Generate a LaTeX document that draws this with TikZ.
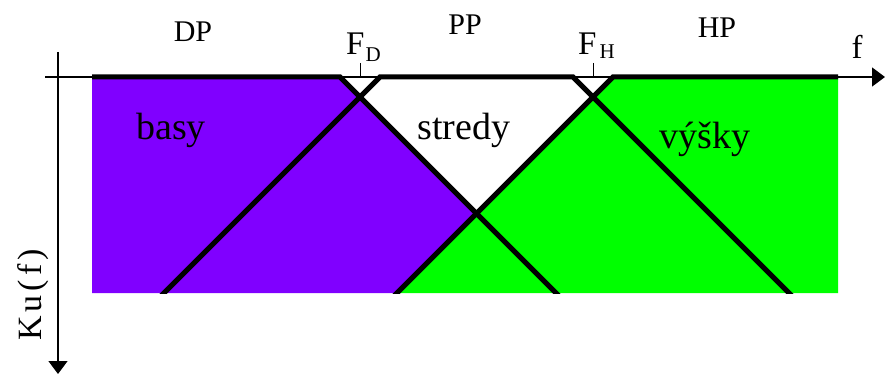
\documentclass[tikz,border=0pt]{standalone}
\usepackage{fontspec}
\setmainfont{Liberation Serif}
\usetikzlibrary{arrows.meta,calc}
\definecolor{basscol}{HTML}{8000FF}
\definecolor{treblecol}{HTML}{00FF00}
\tikzset{
  axisln/.style={-{Triangle[width=19pt,length=13pt]},line width=1.4pt},
  ftick/.style={line width=1pt},
  passln/.style={line width=5pt},
  bandlbl/.style={font=\fontsize{30}{30}\selectfont,anchor=base,inner sep=0pt},
  regionlbl/.style={font=\fontsize{38}{38}\selectfont,anchor=base,inner sep=0pt},
  freqlbl/.style={font=\fontsize{33}{33}\selectfont,anchor=base west,inner sep=0pt},
}
\newcommand{\subfq}[2]{\raisebox{#1}{\fontsize{21}{21}\selectfont #2}}

\begin{document}
\begin{tikzpicture}[x=1pt,y=-1pt]
  \useasboundingbox (0,0) rectangle (885,374);
  % band corners (A, B at F_D; C, D at F_H)
  \coordinate (dpl) at (92,77);
  \coordinate (atop) at (340,77);
  \coordinate (btop) at (380,77);
  \coordinate (ctop) at (573,77);
  \coordinate (dtop) at (613,77);
  \coordinate (hpr) at (838,77);
  \coordinate (hpb) at (838,293);
  \coordinate (dpb) at (92,293);
  \coordinate (abot) at (556,293);
  \coordinate (bbot) at (164,293);
  \coordinate (cbot) at (789,293);
  \coordinate (dbot) at (397,293);
  \coordinate (ad) at (476.5,213.5);
  % fills
  \fill[basscol] (dpl) -- (atop) -- (ad) -- (dbot) -- (dpb) -- cycle;
  \fill[treblecol] (dtop) -- (hpr) -- (hpb) -- (dbot) -- cycle;
  % pass band edges
  \begin{scope}
    \clip (0,0) rectangle (885,293);
    \draw[passln] (dpl) -- (atop) -- ($(abot)+(5,5)$);
    \draw[passln] ($(bbot)+(-5,5)$) -- (btop) -- (ctop) -- ($(cbot)+(5,5)$);
    \draw[passln] ($(dbot)+(-5,5)$) -- (dtop) -- (hpr);
  \end{scope}
  % axes
  \coordinate (fx0) at (45,77);
  \coordinate (fx1) at (885,77);
  \coordinate (ky0) at (58,52);
  \coordinate (ky1) at (58,374);
  \draw[axisln] (fx0) -- (fx1);
  \draw[axisln] (ky0) -- (ky1);
  % ticks
  \coordinate (fdt) at (360,63);
  \coordinate (fdb) at (360,77);
  \coordinate (fht) at (593,63);
  \coordinate (fhb) at (593,77);
  \draw[ftick] (fdt) -- (fdb);
  \draw[ftick] (fht) -- (fhb);
  % labels
  \node[bandlbl] (dp) at (193,42) {DP};
  \node[bandlbl] (pp) at (465,35) {PP};
  \node[bandlbl] (hp) at (717,38) {HP};
  \node[freqlbl] (fd) at (346,55) {F\kern1pt\subfq{-7pt}{D}};
  \node[freqlbl] (fh) at (578,55) {F\kern3pt\subfq{-4pt}{H}};
  \node[freqlbl,anchor=base] (f) at (857,59) {f};
  \node[regionlbl] (basy) at (171,140) {basy};
  \node[regionlbl] (stredy) at (464,140) {stredy};
  \node[regionlbl] (vysky) at (705,149) {výšky};
  \node[rotate=90,anchor=base,inner sep=0pt,
    font=\fontsize{34}{34}\selectfont\addfontfeature{LetterSpace=12}] (ku) at (41,295) {Ku(f)};
\end{tikzpicture}
\end{document}
